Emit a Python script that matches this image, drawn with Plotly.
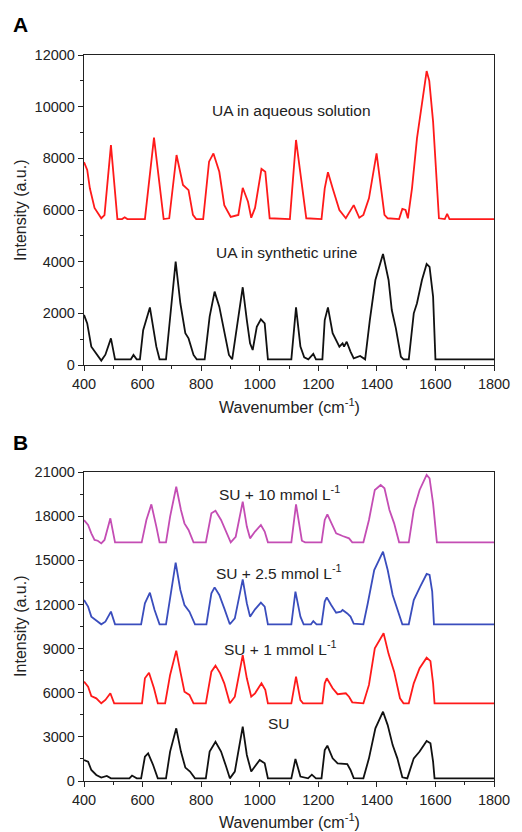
import plotly.graph_objects as go

# ---------------- Panel A data ----------------
ua_aq_wn = [400, 411, 420, 436, 459, 470, 492, 514, 530, 539, 548, 608, 639, 672, 691, 716, 738, 757, 772, 783,
            807, 827, 842, 862, 879, 901, 927, 942, 960, 971, 984, 1006, 1019, 1034, 1103, 1124, 1159, 1211, 1222,
            1233, 1249, 1272, 1294, 1305, 1321, 1340, 1354, 1373, 1399, 1426, 1437, 1476, 1487, 1498, 1506, 1520,
            1537, 1570, 1579, 1592, 1612, 1632, 1640, 1648, 1800]
ua_aq_int = [7850, 7550, 6840, 6080, 5680, 5800, 8510, 5650, 5650, 5720, 5650, 5650, 8800, 5650, 5680, 8130, 6970,
             6770, 5810, 5650, 5650, 7870, 8190, 7480, 6190, 5730, 5810, 6860, 6320, 5700, 6080, 7590, 7480, 5680,
             5650, 8710, 5680, 5650, 6840, 7460, 6840, 6000, 5680, 5900, 6190, 5700, 5810, 6450, 8190, 5810, 5680,
             5650, 6040, 6000, 5680, 6840, 8770, 11380, 11000, 9420, 5680, 5650, 5850, 5650, 5650]

ua_su_wn = [400, 411, 425, 442, 459, 473, 492, 506, 560, 569, 580, 591, 602, 625, 647, 658, 680, 691, 713, 729,
            746, 757, 774, 785, 812, 829, 846, 862, 879, 895, 906, 942, 956, 967, 976, 990, 1004, 1017, 1028, 1108,
            1124, 1139, 1152, 1166, 1183, 1192, 1214, 1222, 1233, 1249, 1272, 1283, 1288, 1297, 1310, 1321, 1343,
            1360, 1376, 1395, 1421, 1440, 1451, 1465, 1482, 1491, 1509, 1526, 1537, 1554, 1570, 1580, 1592, 1600,
            1800]
ua_su_int = [1940, 1610, 710, 450, 170, 400, 1030, 220, 220, 390, 220, 220, 1350, 2230, 710, 220, 220, 1480, 4000,
             2390, 1230, 1030, 390, 220, 220, 1870, 2840, 2260, 1350, 390, 220, 3010, 1740, 840, 580, 1480, 1770,
             1610, 220, 220, 2230, 710, 300, 220, 430, 220, 220, 1740, 2230, 1230, 710, 840, 710, 900, 520, 260,
             350, 220, 1740, 3290, 4300, 3290, 2130, 1420, 320, 220, 220, 2000, 2390, 3290, 3910, 3800, 2650, 220,
             220]

# ---------------- Panel B data ----------------
su10_wn = [400, 414, 425, 436, 447, 459, 470, 490, 506, 597, 613, 630, 647, 658, 680, 694, 715, 731, 743, 757, 774,
           816, 835, 849, 868, 885, 901, 918, 942, 956, 967, 984, 1004, 1017, 1028, 1108, 1124, 1144, 1155, 1211,
           1222, 1231, 1247, 1261, 1283, 1305, 1316, 1354, 1373, 1393, 1413, 1426, 1443, 1459, 1476, 1509, 1526,
           1546, 1570, 1580, 1592, 1605, 1800]
su10_int = [17740, 17400, 16830, 16380, 16330, 16150, 16380, 17850, 16220, 16220, 17740, 18800, 17290, 16220, 16220,
            17970, 20000, 18420, 17510, 17060, 16220, 16220, 18190, 18370, 17740, 16950, 16220, 16600, 18980, 17290,
            16490, 16950, 17400, 16950, 16220, 16220, 18800, 16330, 16220, 16220, 17740, 18120, 17400, 16830, 16650,
            16490, 16220, 16220, 17740, 19780, 20120, 19890, 18420, 17510, 16220, 16220, 18420, 19780, 20800, 20570,
            18870, 16220, 16220]

su25_wn = [400, 414, 425, 442, 459, 473, 492, 506, 595, 608, 625, 641, 658, 680, 694, 713, 729, 743, 760, 779, 818,
           835, 846, 862, 879, 898, 915, 942, 956, 967, 984, 1004, 1017, 1028, 1108, 1122, 1139, 1150, 1175, 1183,
           1194, 1211, 1222, 1229, 1244, 1261, 1277, 1283, 1299, 1310, 1321, 1354, 1369, 1391, 1421, 1437, 1454,
           1470, 1487, 1509, 1526, 1548, 1570, 1580, 1589, 1595, 1800]
su25_int = [12300, 11850, 11170, 10940, 10650, 10830, 11510, 10650, 10650, 12080, 12800, 11620, 10650, 10650, 12300,
            14840, 12980, 11960, 11510, 10650, 10650, 12750, 13160, 12640, 11730, 10650, 11050, 13700, 12080, 11170,
            11670, 12120, 11850, 10650, 10650, 12870, 11170, 10650, 10650, 10870, 10650, 10650, 12190, 12480, 11960,
            11440, 11510, 11620, 11390, 11170, 10700, 10650, 12080, 14340, 15590, 14340, 12640, 11730, 10650, 10650,
            12300, 13210, 14070, 14000, 12870, 10650, 10650]

su1_wn = [400, 414, 425, 442, 459, 473, 490, 503, 598, 608, 622, 639, 652, 677, 694, 715, 729, 743, 760, 774, 816,
          835, 849, 865, 879, 898, 915, 942, 956, 971, 984, 1006, 1019, 1028, 1108, 1124, 1139, 1148, 1214, 1222,
          1229, 1249, 1266, 1294, 1305, 1316, 1354, 1373, 1393, 1423, 1440, 1459, 1479, 1491, 1509, 1526, 1546,
          1570, 1583, 1592, 1597, 1800]
su1_int = [6750, 6410, 5770, 5620, 5280, 5510, 5960, 5280, 5280, 6980, 7360, 6300, 5280, 5280, 7210, 8860, 7430,
           6070, 5850, 5280, 5280, 7430, 7840, 7320, 6640, 5280, 5730, 8560, 6980, 5730, 5960, 6640, 6190, 5280,
           5280, 7090, 5500, 5280, 5280, 6640, 6980, 6300, 5900, 5960, 5730, 5350, 5280, 6530, 9020, 10040, 8640,
           7430, 5620, 5280, 5280, 6640, 7660, 8380, 8150, 6640, 5280, 5280]

su_wn = [400, 414, 425, 442, 459, 478, 492, 555, 564, 580, 595, 608, 619, 636, 652, 680, 694, 715, 731, 746, 762,
         779, 816, 829, 849, 868, 885, 898, 915, 942, 956, 971, 984, 1000, 1017, 1028, 1108, 1122, 1139, 1165, 1178,
         1192, 1211, 1222, 1231, 1249, 1266, 1299, 1310, 1321, 1354, 1373, 1395, 1421, 1437, 1454, 1470, 1487, 1504,
         1526, 1546, 1570, 1583, 1592, 1597, 1800]
su_int = [1430, 1310, 750, 410, 230, 340, 180, 180, 370, 180, 180, 1650, 1880, 1090, 180, 180, 2000, 3580, 2000, 910,
          640, 180, 180, 2000, 2670, 2000, 1000, 180, 640, 3690, 1770, 640, 1000, 1430, 1200, 180, 180, 1500, 300,
          180, 430, 180, 180, 2100, 2400, 1540, 1200, 1150, 750, 200, 180, 1540, 3580, 4710, 3800, 2440, 1540, 250,
          180, 1540, 2000, 2720, 2560, 1310, 180, 180]

# labels
label_a = ["UA in aqueous solution", "UA in synthetic urine"]
label_a_pos = [(1109, 9870), (1092, 4350)]
label_b = ["SU + 10 mmol L<sup>-1</sup>", "SU + 2.5 mmol L<sup>-1</sup>", "SU + 1 mmol L<sup>-1</sup>", "SU"]
label_b_pos = [(1067, 19600), (1067, 14180), (1070, 9020), (1067, 3920)]

FONT = "Liberation Sans, Arial, sans-serif"
LW = 1.8

fig = go.Figure()
fig.add_trace(go.Scatter(x=ua_aq_wn, y=ua_aq_int, mode="lines", line=dict(color="#ff1a1a", width=LW),
                         xaxis="x", yaxis="y", showlegend=False))
fig.add_trace(go.Scatter(x=ua_su_wn, y=ua_su_int, mode="lines", line=dict(color="#111111", width=LW),
                         xaxis="x", yaxis="y", showlegend=False))
fig.add_trace(go.Scatter(x=su10_wn, y=su10_int, mode="lines", line=dict(color="#c44db4", width=LW),
                         xaxis="x2", yaxis="y2", showlegend=False))
fig.add_trace(go.Scatter(x=su25_wn, y=su25_int, mode="lines", line=dict(color="#3a4dbd", width=LW),
                         xaxis="x2", yaxis="y2", showlegend=False))
fig.add_trace(go.Scatter(x=su1_wn, y=su1_int, mode="lines", line=dict(color="#ff1a1a", width=LW),
                         xaxis="x2", yaxis="y2", showlegend=False))
fig.add_trace(go.Scatter(x=su_wn, y=su_int, mode="lines", line=dict(color="#111111", width=LW),
                         xaxis="x2", yaxis="y2", showlegend=False))

axis_common = dict(showline=True, mirror=True, linecolor="#222", linewidth=1.3, showgrid=False, zeroline=False,
                   ticks="outside", ticklen=5, tickwidth=1.2, tickcolor="#222", ticklabeloverflow="allow",
                   tickfont=dict(family=FONT, size=14.5, color="#222"))

H_TOP = 1.0
A_BOT = 1 - (365 - 55) / 726
B_TOP = 1 - (472 - 55) / 726

fig.update_layout(
    width=522, height=832,
    margin=dict(l=84, r=16, t=55, b=51),
    paper_bgcolor="white", plot_bgcolor="white",
    font=dict(family=FONT, size=15, color="#222"),
    xaxis=dict(domain=[0, 1], anchor="y", range=[400, 1800], dtick=200, tick0=400,
               minor=dict(dtick=100, ticks="outside", ticklen=3, tickcolor="#222"), **axis_common),
    yaxis=dict(domain=[A_BOT, H_TOP], anchor="x", range=[0, 12000], dtick=2000, tickformat="d",
               minor=dict(dtick=1000, ticks="outside", ticklen=3, tickcolor="#222"), **axis_common),
    xaxis2=dict(domain=[0, 1], anchor="y2", range=[400, 1800], dtick=200, tick0=400,
                minor=dict(dtick=100, ticks="outside", ticklen=3, tickcolor="#222"), **axis_common),
    yaxis2=dict(domain=[0, B_TOP], anchor="x2", range=[0, 21000], dtick=3000, tickformat="d",
                minor=dict(dtick=1500, ticks="outside", ticklen=3, tickcolor="#222"), **axis_common),
)

ann = []
for t, (x, y) in zip(label_a, label_a_pos):
    ann.append(dict(text=t, x=x, y=y, xref="x", yref="y", showarrow=False,
                    font=dict(family=FONT, size=15.5, color="#222")))
for t, (x, y) in zip(label_b, label_b_pos):
    ann.append(dict(text=t, x=x, y=y, xref="x2", yref="y2", showarrow=False,
                    font=dict(family=FONT, size=15.5, color="#222")))

def px_x(px):
    return (px - 84) / 422

def px_y(py):
    return 1 - (py - 55) / 726

ann += [
    dict(text="<b>A</b>", x=px_x(9), y=px_y(25), xref="paper", yref="paper", showarrow=False,
         xanchor="left", yanchor="middle", font=dict(family=FONT, size=21, color="black")),
    dict(text="<b>B</b>", x=px_x(9), y=px_y(442), xref="paper", yref="paper", showarrow=False,
         xanchor="left", yanchor="middle", font=dict(family=FONT, size=21, color="black")),
    dict(text="Intensity (a.u.)", x=px_x(18), y=px_y(210), xref="paper", yref="paper", showarrow=False,
         textangle=-90, xanchor="center", yanchor="middle", font=dict(family=FONT, size=16, color="#222")),
    dict(text="Intensity (a.u.)", x=px_x(18), y=px_y(626), xref="paper", yref="paper", showarrow=False,
         textangle=-90, xanchor="center", yanchor="middle", font=dict(family=FONT, size=16, color="#222")),
    dict(text="Wavenumber (cm<sup>-1</sup>)", x=px_x(295), y=px_y(406), xref="paper", yref="paper",
         showarrow=False, xanchor="center", yanchor="middle", font=dict(family=FONT, size=16, color="#222")),
    dict(text="Wavenumber (cm<sup>-1</sup>)", x=px_x(295), y=px_y(821), xref="paper", yref="paper",
         showarrow=False, xanchor="center", yanchor="middle", font=dict(family=FONT, size=16, color="#222")),
]
fig.update_layout(annotations=ann)

fig.write_html("out.html")
